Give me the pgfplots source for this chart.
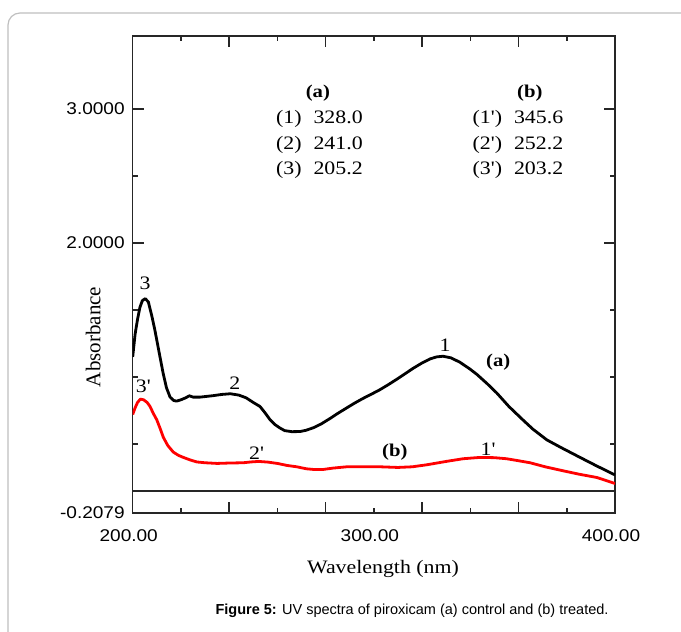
\documentclass[border=0pt]{standalone}
\usepackage{fontspec}
\usepackage{pgfplots}
\pgfplotsset{compat=1.18}
\newfontfamily\serifS{Liberation Serif}[FakeStretch=1.15]
\newfontfamily\serifN{Liberation Serif}
\newfontfamily\sansS{Liberation Sans}[FakeStretch=1.12]
\newfontfamily\capfont{Liberation Sans}
\definecolor{specred}{RGB}{255,0,0}
\begin{document}
\begin{tikzpicture}
\begin{axis}[
  at={(132.7pt,119pt)}, anchor=south west,
  scale only axis, width=482.3pt, height=477pt,
  xmin=200, xmax=400, ymin=-0.0149, ymax=3.545,
  axis line style={line width=1.6pt, black!85},
  xtick={240,280,320,360}, xticklabels={},
  minor xtick={220,260,300,340,380},
  extra x ticks={200,300,400},
  extra x tick labels={200.00,300.00,400.00},
  extra x tick style={major tick length=0pt},
  ytick={2,3}, yticklabels={2.0000,3.0000},
  minor ytick={0.5,1,1.5,2.5},
  extra y ticks={-0.0149}, extra y tick labels={-0.2079},
  extra y tick style={major tick length=0pt},
  major tick length=11pt, minor tick length=5pt,
  every tick/.append style={black!85, line width=1.5pt},
  tick align=inside,
  ticklabel style={font=\sansS\fontsize{17}{19}\selectfont},
  xticklabel style={yshift=-13pt, xshift=-4pt},
  yticklabel style={xshift=-4.5pt},
  xlabel={Wavelength (nm)},
  xlabel style={at={(axis description cs:0.519,-0.117)}, anchor=center, font=\serifS\fontsize{19}{22}\selectfont},
  ylabel={Absorbance},
  ylabel style={at={(axis description cs:-0.082,0.369)}, anchor=center, font=\serifN\fontsize{21}{24}\selectfont},
]
% baseline
\addplot[black!85, line width=1.3pt] coordinates {(200,0.149) (400,0.149)};
% (a) control
\addplot[black, line width=2.8pt, line join=round] coordinates {
(200,1.15) (201,1.32) (202,1.43) (203,1.52) (204,1.57) (205.2,1.585) (206.5,1.56)
(208,1.45) (209.2,1.35) (211,1.18) (212.6,1.03) (214,0.92) (215.5,0.85) (217,0.825)
(218.2,0.82) (220,0.83) (222,0.845) (223.5,0.86) (225,0.85) (228,0.85) (233,0.86)
(237,0.87) (240.5,0.875) (244,0.865) (247,0.845) (250,0.81) (252.8,0.78) (255,0.73)
(257,0.68) (259,0.645) (261,0.62) (263,0.60) (266,0.592) (269.4,0.593) (272,0.603)
(275,0.622) (278,0.648) (281.8,0.69) (285,0.728) (288.8,0.77) (292,0.805) (295.5,0.84)
(299,0.872) (302.5,0.905) (306,0.943) (309.5,0.983) (313,1.025) (316.3,1.065) (320,1.105)
(323.3,1.135) (326,1.15) (328.7,1.155) (332,1.143) (335.7,1.11) (339.8,1.06) (342.7,1.02)
(347,0.95) (351,0.88) (356,0.78) (361.8,0.68) (366,0.61) (371.8,0.53) (378,0.47)
(385.5,0.40) (392,0.34) (399.2,0.276) (400,0.27)};
% (b) treated
\addplot[specred, line width=2.8pt, line join=round] coordinates {
(200,0.72) (201,0.77) (202,0.81) (203.2,0.835) (204.5,0.83) (206,0.81) (207.2,0.78)
(208.5,0.73) (210,0.68) (211.5,0.61) (212.7,0.55) (214.5,0.49) (216.8,0.44) (219,0.415)
(221,0.40) (224,0.38) (226.6,0.366) (230,0.36) (235,0.355) (240,0.358) (245.8,0.36)
(249,0.366) (252.2,0.37) (256,0.365) (260,0.355) (264,0.34) (268,0.33) (272,0.315)
(275,0.31) (279,0.31) (283,0.32) (288.8,0.33) (295,0.33) (302.5,0.33) (310,0.325)
(316,0.33) (322,0.345) (330,0.37) (337,0.39) (344,0.40) (350,0.398) (355,0.39)
(360,0.375) (364.8,0.36) (371,0.33) (378.5,0.30) (385,0.275) (392.5,0.25) (399.2,0.21)
(400,0.205)};
% peak table
\node[font=\serifS\bfseries\fontsize{18}{20}\selectfont] at (axis cs:276.8,3.12) {(a)};
\node[font=\serifS\fontsize{19}{21}\selectfont, anchor=west] at (axis cs:258,2.923) {(1)\hspace{12pt}328.0};
\node[font=\serifS\fontsize{19}{21}\selectfont, anchor=west] at (axis cs:258,2.731) {(2)\hspace{12pt}241.0};
\node[font=\serifS\fontsize{19}{21}\selectfont, anchor=west] at (axis cs:258,2.545) {(3)\hspace{12pt}205.2};
\node[font=\serifS\bfseries\fontsize{18}{20}\selectfont] at (axis cs:364.7,3.12) {(b)};
\node[font=\serifS\fontsize{19}{21}\selectfont, anchor=west] at (axis cs:339.5,2.923) {(1')\hspace{12pt}345.6};
\node[font=\serifS\fontsize{19}{21}\selectfont, anchor=west] at (axis cs:339.5,2.731) {(2')\hspace{12pt}252.2};
\node[font=\serifS\fontsize{19}{21}\selectfont, anchor=west] at (axis cs:339.5,2.545) {(3')\hspace{12pt}203.2};
% peak labels
\node[font=\serifS\fontsize{19}{21}\selectfont] at (axis cs:205.1,1.70) {3};
\node[font=\serifS\fontsize{19}{21}\selectfont] at (axis cs:204.4,0.928) {3'};
\node[font=\serifS\fontsize{19}{21}\selectfont] at (axis cs:242.4,0.953) {2};
\node[font=\serifS\fontsize{19}{21}\selectfont] at (axis cs:251.4,0.43) {2'};
\node[font=\serifS\fontsize{19}{21}\selectfont] at (axis cs:329.5,1.24) {1};
\node[font=\serifS\fontsize{19}{21}\selectfont] at (axis cs:347.4,0.458) {1'};
\node[font=\serifS\bfseries\fontsize{18}{20}\selectfont] at (axis cs:351.6,1.107) {(a)};
\node[font=\serifS\bfseries\fontsize{18}{20}\selectfont] at (axis cs:308.7,0.442) {(b)};
\end{axis}
% surrounding figure box and caption
\draw[rounded corners=12pt, black!25, line width=1.2pt] (8pt,-40pt) rectangle (740pt,619pt);
\node[font=\capfont\fontsize{14.5}{17}\selectfont] at (412pt,21pt) {\textbf{Figure 5:} UV spectra of piroxicam (a) control and (b) treated.};
\pgfresetboundingbox
\path[use as bounding box] (0pt,0pt) rectangle (681pt,632pt);
\end{tikzpicture}
\end{document}
